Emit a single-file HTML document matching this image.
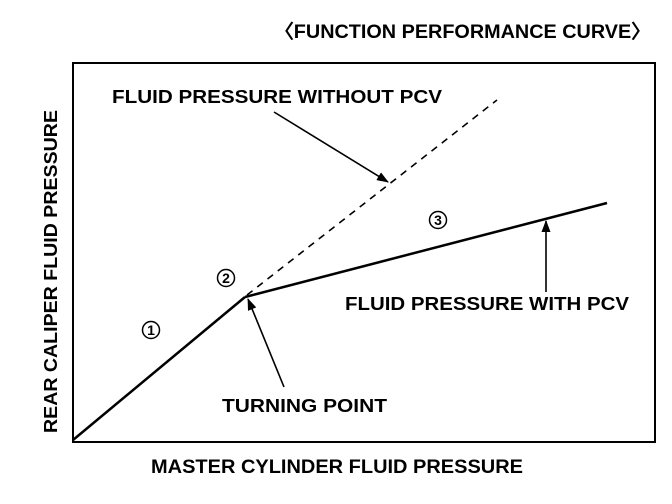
<!DOCTYPE html>
<html><head><style>html,body{margin:0;padding:0;background:#fff}</style></head>
<body>
<svg width="672" height="504" xmlns="http://www.w3.org/2000/svg" style="display:block">
<defs><marker id="a" markerWidth="12" markerHeight="9" refX="11" refY="4.5" orient="auto" markerUnits="userSpaceOnUse"><path d="M0,0 L12,4.5 L0,9 Z" fill="#000"/></marker></defs>
<g font-family="'Liberation Sans',sans-serif" font-weight="bold" fill="#000">
<text x="274" y="38" font-size="19" textLength="377" lengthAdjust="spacingAndGlyphs">〈FUNCTION PERFORMANCE CURVE〉</text>
<text x="112" y="103" font-size="18" textLength="330" lengthAdjust="spacingAndGlyphs">FLUID PRESSURE WITHOUT PCV</text>
<text x="345" y="310" font-size="18" textLength="284" lengthAdjust="spacingAndGlyphs">FLUID PRESSURE WITH PCV</text>
<text x="222" y="412" font-size="18" textLength="165" lengthAdjust="spacingAndGlyphs">TURNING POINT</text>
<text x="151" y="473" font-size="19" textLength="372" lengthAdjust="spacingAndGlyphs">MASTER CYLINDER FLUID PRESSURE</text>
<text transform="translate(57,433) rotate(-90)" font-size="18" textLength="323" lengthAdjust="spacingAndGlyphs">REAR CALIPER FLUID PRESSURE</text>
</g>
<rect x="73" y="63" width="582" height="379" fill="none" stroke="#000" stroke-width="2"/>
<line x1="73" y1="440" x2="245" y2="297" stroke="#000" stroke-width="2.5"/>
<line x1="245" y1="297" x2="607" y2="203" stroke="#000" stroke-width="2.5"/>
<line x1="247" y1="295" x2="497" y2="100" stroke="#000" stroke-width="1.6" stroke-dasharray="7,6"/>
<line x1="274" y1="112" x2="388" y2="182" stroke="#000" stroke-width="1.6" marker-end="url(#a)"/>
<line x1="546" y1="292" x2="546" y2="221" stroke="#000" stroke-width="1.6" marker-end="url(#a)"/>
<line x1="284" y1="387" x2="248" y2="299" stroke="#000" stroke-width="1.6" marker-end="url(#a)"/>
<g fill="none" stroke="#000" stroke-width="1.5">
<circle cx="151" cy="330" r="8.5"/><circle cx="226" cy="278" r="8.5"/><circle cx="438" cy="220" r="8.5"/>
</g>
<g font-family="'Liberation Sans',sans-serif" font-size="14" font-weight="bold" text-anchor="middle">
<text x="151" y="335">1</text><text x="226" y="283">2</text><text x="438" y="225">3</text>
</g>
</svg>
</body></html>
